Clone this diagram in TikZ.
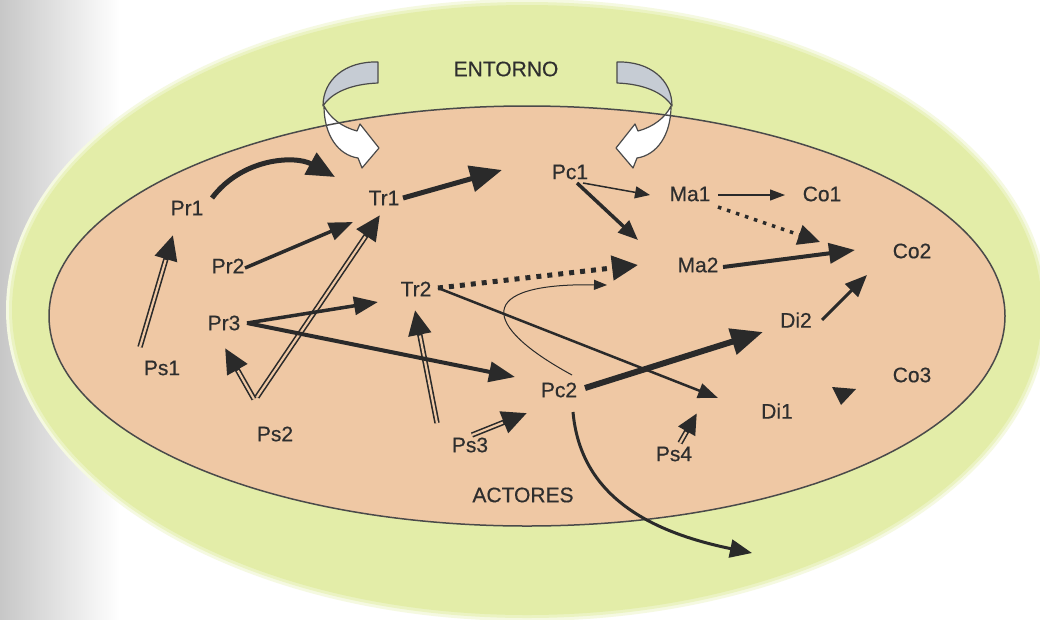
\documentclass[tikz,border=0pt]{standalone}
\usepackage{fontspec}
\setmainfont{Liberation Sans}
\newfontfamily\lblfont[FakeBold=0.5]{Liberation Sans}
\usetikzlibrary{arrows.meta}
\definecolor{bgG}{HTML}{E3EDA8}
\definecolor{inT}{HTML}{EFC8A4}
\definecolor{ink}{HTML}{2A2A2A}
\definecolor{txt}{HTML}{2E2E2E}
\definecolor{bandG}{HTML}{C6CCD4}
\definecolor{edge}{HTML}{4A4A4A}
\begin{document}
\begin{tikzpicture}[x=1pt,y=-1pt,
  lbl/.style={font=\lblfont\fontsize{21}{23}\selectfont, text=txt, inner sep=0pt},
  ar/.style n args={3}{draw=ink, line width=#1, -{Triangle[length=#2,width=#3]}},
  dotar/.style n args={3}{draw=ink, line width=#1, dash pattern=on #1 off 6pt, -{Triangle[length=#2,width=#3]}},
  dblA/.style={draw=ink, line width=5.4pt, -{Triangle[length=25pt,width=22pt]},
    postaction={draw=inT, line width=2.2pt, -, shorten >=26pt}},
  dblB/.style={draw=ink, line width=5.4pt, -{Triangle[length=21pt,width=18pt]},
    postaction={draw=inT, line width=2.2pt, -, shorten >=22pt}},
  band/.style={draw=edge, line width=1.2pt, line join=round},
]
\useasboundingbox (0,0) rectangle (1040,619);
\fill[white] (0,0) rectangle (1040,619);
\shade[left color=black!22, right color=white] (0,0) rectangle (120,619);

% outer environment ellipse (soft edge)
\fill[bgG!35] (527,310) ellipse [x radius=521pt, y radius=311pt];
\fill[bgG!70] (527,310) ellipse [x radius=518pt, y radius=308pt];
\fill[bgG] (527,310) ellipse [x radius=515pt, y radius=305pt];

% inner actors ellipse
\fill[inT] (527,316) ellipse [x radius=478pt, y radius=210pt];

% ENTORNO curled arrows
\filldraw[band, fill=white] (324,106) .. controls (324,135) and (338,155) .. (358,158)
  -- (362,168) -- (379,148) -- (360,124) -- (357,131)
  .. controls (342,127) and (330,118) .. (324,106) -- cycle;
\filldraw[band, fill=bandG] (378,62) .. controls (345,61) and (323,80) .. (323,106)
  .. controls (332,92) and (352,84) .. (378,83) -- cycle;
\filldraw[band, fill=white] (671,106) .. controls (671,135) and (657,155) .. (637,158)
  -- (633,168) -- (616,148) -- (635,124) -- (638,131)
  .. controls (653,127) and (665,118) .. (671,106) -- cycle;
\filldraw[band, fill=bandG] (617,62) .. controls (650,61) and (672,80) .. (672,106)
  .. controls (663,92) and (643,84) .. (617,83) -- cycle;

\draw[edge, line width=1.5pt] (527,316) ellipse [x radius=478pt, y radius=210pt];

% labels
\node[lbl] (entorno) at (506,69) {ENTORNO};
\node[lbl] (actores) at (523,495) {ACTORES};
\node[lbl] (pr1) at (187,208) {Pr1};
\node[lbl] (tr1) at (384,198) {Tr1};
\node[lbl] (pc1) at (570,172) {Pc1};
\node[lbl] (ma1) at (690,194) {Ma1};
\node[lbl] (co1) at (822,194) {Co1};
\node[lbl] (pr2) at (228,266) {Pr2};
\node[lbl] (ma2) at (698,265) {Ma2};
\node[lbl] (co2) at (912,251) {Co2};
\node[lbl] (tr2) at (416,289) {Tr2};
\node[lbl] (pr3) at (224,323) {Pr3};
\node[lbl] (di2) at (796,320) {Di2};
\node[lbl] (ps1) at (162,368) {Ps1};
\node[lbl] (co3) at (912,375) {Co3};
\node[lbl] (pc2) at (559,390) {Pc2};
\node[lbl] (di1) at (777,411) {Di1};
\node[lbl] (ps2) at (275,434) {Ps2};
\node[lbl] (ps3) at (470,445) {Ps3};
\node[lbl] (ps4) at (674,454) {Ps4};
\coordinate (out) at (752,553);

% double-line arrows (drawn first)
\draw[dblA] ([shift={(-18,-37)}]ps2.center) -- ([shift={(-4,17)}]tr1.center);
\draw[dblA] ([shift={(-21,-35)}]ps2.center) -- ([shift={(1,25)}]pr3.center);
\draw[dblA] ([shift={(-22,-21)}]ps1.center) -- ([shift={(-14,27)}]pr1.center);
\draw[dblA] ([shift={(-33,-22)}]ps3.center) -- ([shift={(-1,21)}]tr2.center);
\draw[dblA] ([shift={(2,-10)}]ps3.center) -- ([shift={(-32,23)}]pc2.center);
\draw[dblB] ([shift={(6,-11)}]ps4.center) -- ([shift={(-80,2)}]di1.center);

% solid arrows
\draw[ar={5pt}{28pt}{24pt}] ([shift={(25,-10)}]pr1.center) .. controls +(30,-40) and +(-40,-22) .. ([shift={(-49,-21)}]tr1.center);
\draw[ar={5pt}{32pt}{26pt}] ([shift={(19,0)}]tr1.center) -- ([shift={(-68,-2)}]pc1.center);
\draw[ar={3.5pt}{24pt}{18pt}] ([shift={(17,2)}]pr2.center) -- ([shift={(-31,24)}]tr1.center);
\draw[ar={3.5pt}{24pt}{18pt}] ([shift={(23,0)}]pr3.center) -- ([shift={(-38,13)}]tr2.center);
\draw[ar={4pt}{26pt}{20pt}] ([shift={(23,0)}]pr3.center) -- ([shift={(-44,-13)}]pc2.center);
\draw[dotar={5pt}{26pt}{24pt}] ([shift={(22,-1)}]tr2.center) -- ([shift={(-60,0)}]ma2.center);
\draw[ar={2.5pt}{20pt}{15pt}] ([shift={(22,-1)}]tr2.center) -- ([shift={(-59,-13)}]di1.center);
\draw[ar={1pt}{13pt}{10pt}] ([shift={(13,-15)}]pc2.center) .. controls +(-92,-50) and +(-132,-2) .. ([shift={(-91,20)}]ma2.center);
\draw[ar={6pt}{32pt}{26pt}] ([shift={(26,-2)}]pc2.center) -- ([shift={(-33,12)}]di2.center);
\draw[ar={3pt}{22pt}{18pt}] ([shift={(14,22)}]pc2.center) .. controls +(7,78) and +(-112,-23) .. (out);
\draw[ar={1.5pt}{15pt}{12pt}] ([shift={(13,11)}]pc1.center) -- ([shift={(-40,1)}]ma1.center);
\draw[ar={3.5pt}{20pt}{16pt}] ([shift={(7,11)}]pc1.center) -- ([shift={(-60,-25)}]ma2.center);
\draw[ar={1.2pt}{15pt}{11pt}] ([shift={(28,1)}]ma1.center) -- ([shift={(-37,1)}]co1.center);
\draw[dotar={3.5pt}{22pt}{20pt}] ([shift={(28,13)}]ma1.center) -- ([shift={(-92,-9)}]co2.center);
\draw[ar={4pt}{26pt}{20pt}] ([shift={(25,2)}]ma2.center) -- ([shift={(-57,-1)}]co2.center);
\draw[ar={3pt}{22pt}{18pt}] ([shift={(26,0)}]di2.center) -- ([shift={(-45,24)}]co2.center);

% stray arrowhead near Co3
\fill[ink] (832,387) -- (856,389) -- (841,405) -- cycle;
\end{tikzpicture}
\end{document}
